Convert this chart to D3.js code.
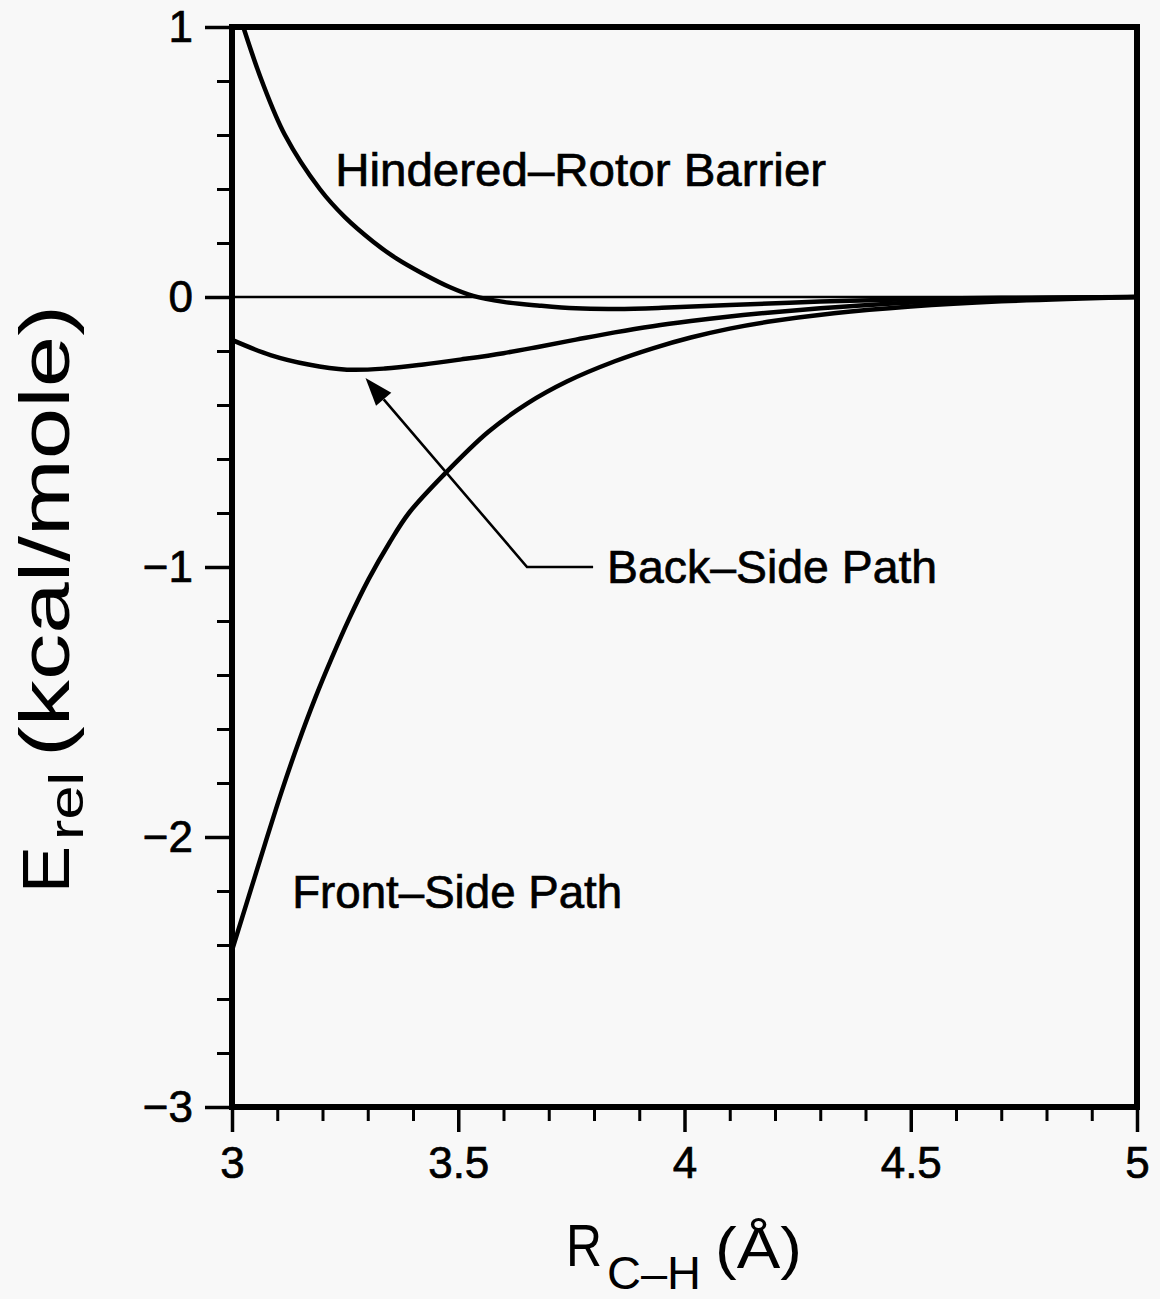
<!DOCTYPE html>
<html>
<head>
<meta charset="utf-8">
<script src="https://cdn.jsdelivr.net/npm/d3@7"></script>
<style>
  html, body { margin: 0; padding: 0; background: #f8f8f8; }
  svg { display: block; }
  text { font-family: "Liberation Sans", Arial, sans-serif; fill: #000; stroke: #000; stroke-width: 0.7px; }
  .title text { stroke-width: 0; }
</style>
</head>
<body>
<svg id="chart" width="1160" height="1299"></svg>
<script>
// ---- data: relative energy (kcal/mole) vs C–H distance (Å) ----
const rotorR = [3.025, 3.066, 3.117, 3.194, 3.25, 3.312, 3.364, 3.42, 3.482, 3.533,
                3.6, 3.68, 3.76, 3.85, 3.95, 4.1, 4.3, 4.5, 4.7, 5.0];
const rotorE = [1.0, 0.80, 0.60, 0.40, 0.295, 0.205, 0.142, 0.088, 0.036, 0.004,
                -0.018, -0.032, -0.042, -0.044, -0.040, -0.030, -0.017, -0.008, -0.003, 0.0];

const backR = [3.0, 3.085, 3.169, 3.254, 3.338, 3.423, 3.507, 3.6, 3.676, 3.76,
               3.846, 3.93, 4.014, 4.1, 4.184, 4.3, 4.45, 4.6, 4.8, 5.0];
const backE = [-0.159, -0.215, -0.250, -0.269, -0.265, -0.250, -0.231, -0.208, -0.185, -0.158,
               -0.131, -0.108, -0.089, -0.072, -0.058, -0.042, -0.025, -0.013, -0.004, 0.0];

const frontR = [3.0, 3.037, 3.074, 3.110, 3.147, 3.184, 3.221, 3.258, 3.302, 3.348,
                3.391, 3.47, 3.566, 3.653, 3.74, 3.846, 3.93, 4.014, 4.1, 4.184,
                4.33, 4.5, 4.7, 5.0];
const frontE = [-2.42, -2.22, -2.02, -1.83, -1.65, -1.485, -1.335, -1.195, -1.045, -0.91,
                -0.80, -0.655, -0.50, -0.394, -0.313, -0.238, -0.19, -0.150, -0.117, -0.092,
                -0.060, -0.035, -0.016, 0.0];

// ---- axes ----
const xDomain = [3, 5];
const yDomain = [-3, 1];
const xMajorTicks = [3, 3.5, 4, 4.5, 5];
const yMajorTicks = [-3, -2, -1, 0, 1];
const xMinorTicks = [3.1, 3.2, 3.3, 3.4, 3.6, 3.7, 3.8, 3.9, 4.1, 4.2, 4.3, 4.4, 4.6, 4.7, 4.8, 4.9];
const yMinorTicks = [-2.8, -2.6, -2.4, -2.2, -1.8, -1.6, -1.4, -1.2, -0.8, -0.6, -0.4, -0.2,
                     0.2, 0.4, 0.6, 0.8];

// ---- labels ----
const curveLabels = [
  { text: "Hindered–Rotor Barrier", r: 3.228, e: 0.412, len: 491 },
  { text: "Back–Side Path",         r: 3.829, e: -1.059, len: 330 },
  { text: "Front–Side Path",        r: 3.133, e: -2.263, len: 330 }
];
// arrow pointing from the Back–Side label to the minimum of that curve
const arrowTip = { r: 3.295, e: -0.30 };
const arrowElbow = { r: 3.652, e: -1.0 };
const arrowEnd = { r: 3.798, e: -1.0 };

const W = 1160, H = 1299;
const plot = { left: 232, right: 1137, top: 27, bottom: 1107 };

const svg = d3.select("#chart");
svg.append("rect").attr("width", W).attr("height", H).attr("fill", "#f8f8f8");

const x = d3.scaleLinear(xDomain, [plot.left, plot.right]);
const y = d3.scaleLinear(yDomain, [plot.bottom, plot.top]);

svg.append("defs").append("clipPath").attr("id", "plotClip")
  .append("rect")
  .attr("x", plot.left).attr("y", plot.top)
  .attr("width", plot.right - plot.left).attr("height", plot.bottom - plot.top);

const fontTicks = 44;
const fontFamily = '"Liberation Sans", Arial, sans-serif';

// minor ticks
svg.append("g")
  .attr("transform", `translate(${plot.left},0)`)
  .call(d3.axisLeft(y).tickValues(yMinorTicks).tickSize(15).tickFormat(""))
  .call(g => g.select(".domain").remove())
  .call(g => g.selectAll("line").attr("stroke", "#000").attr("stroke-width", 3));

svg.append("g")
  .attr("transform", `translate(0,${plot.bottom})`)
  .call(d3.axisBottom(x).tickValues(xMinorTicks).tickSize(14).tickFormat(""))
  .call(g => g.select(".domain").remove())
  .call(g => g.selectAll("line").attr("stroke", "#000").attr("stroke-width", 3));

// major ticks + labels
svg.append("g")
  .attr("transform", `translate(${plot.left},0)`)
  .call(d3.axisLeft(y).tickValues(yMajorTicks).tickSize(27).tickPadding(12)
          .tickFormat(d3.format("~g")))
  .call(g => g.select(".domain").remove())
  .call(g => g.selectAll("line").attr("stroke", "#000").attr("stroke-width", 3.5))
  .call(g => g.selectAll("text")
      .attr("font-size", fontTicks)
      .attr("font-family", fontFamily)
      .attr("fill", "#000"));

svg.append("g")
  .attr("transform", `translate(0,${plot.bottom})`)
  .call(d3.axisBottom(x).tickValues(xMajorTicks).tickSize(25).tickPadding(15)
          .tickFormat(d3.format("~g")))
  .call(g => g.select(".domain").remove())
  .call(g => g.selectAll("line").attr("stroke", "#000").attr("stroke-width", 3.5))
  .call(g => g.selectAll("text")
      .attr("font-size", fontTicks)
      .attr("font-family", fontFamily)
      .attr("fill", "#000"));

// zero reference line
svg.append("line")
  .attr("x1", x(xDomain[0])).attr("x2", x(xDomain[1]))
  .attr("y1", y(0)).attr("y2", y(0))
  .attr("stroke", "#000").attr("stroke-width", 2.5);

// energy curves
const line = d3.line()
  .x(d => x(d[0]))
  .y(d => y(d[1]))
  .curve(d3.curveCatmullRom.alpha(0.5));

const series = [
  d3.zip(rotorR, rotorE),
  d3.zip(backR, backE),
  d3.zip(frontR, frontE)
];

svg.append("g").attr("clip-path", "url(#plotClip)")
  .selectAll("path")
  .data(series)
  .join("path")
  .attr("d", line)
  .attr("fill", "none")
  .attr("stroke", "#000")
  .attr("stroke-width", 4.5)
  .attr("stroke-linejoin", "round");

// annotation arrow
const tip = [x(arrowTip.r), y(arrowTip.e)];
const elbow = [x(arrowElbow.r), y(arrowElbow.e)];
const end = [x(arrowEnd.r), y(arrowEnd.e)];
const dx = tip[0] - elbow[0], dy = tip[1] - elbow[1];
const dl = Math.hypot(dx, dy);
const ux = dx / dl, uy = dy / dl;
const headLen = 28, headHalf = 10;
const base = [tip[0] - ux * headLen, tip[1] - uy * headLen];

svg.append("path")
  .attr("d", d3.line()([end, elbow, base]))
  .attr("fill", "none")
  .attr("stroke", "#000")
  .attr("stroke-width", 2.6);

svg.append("path")
  .attr("d", d3.line()([
    tip,
    [base[0] - uy * headHalf, base[1] + ux * headHalf],
    [base[0] + uy * headHalf, base[1] - ux * headHalf]
  ]) + "Z")
  .attr("fill", "#000");

// curve labels
svg.append("g")
  .selectAll("text")
  .data(curveLabels)
  .join("text")
  .attr("x", d => x(d.r))
  .attr("y", d => y(d.e))
  .attr("font-size", 47)
  .attr("textLength", d => d.len)
  .attr("lengthAdjust", "spacingAndGlyphs")
  .text(d => d.text);

// frame
svg.append("rect")
  .attr("x", plot.left).attr("y", plot.top)
  .attr("width", plot.right - plot.left).attr("height", plot.bottom - plot.top)
  .attr("fill", "none")
  .attr("stroke", "#000")
  .attr("stroke-width", 6);

// x-axis title: R_C–H (Å)
const xt = svg.append("g").attr("class", "title");
xt.append("text").attr("x", 566).attr("y", 1266).attr("font-size", 60)
  .attr("textLength", 36).attr("lengthAdjust", "spacingAndGlyphs").text("R");
xt.append("text").attr("x", 607).attr("y", 1289).attr("font-size", 47)
  .attr("textLength", 94).attr("lengthAdjust", "spacingAndGlyphs").text("C–H");
xt.append("text").attr("x", 715).attr("y", 1268).attr("font-size", 58)
  .attr("textLength", 87).attr("lengthAdjust", "spacingAndGlyphs").text("(Å)");

// y-axis title: E_rel (kcal/mole)
const yt = svg.append("g").attr("class", "title")
  .attr("transform", "translate(69,893) rotate(-90)");
yt.append("text").attr("x", 0).attr("y", 0).attr("font-size", 67)
  .attr("textLength", 47).attr("lengthAdjust", "spacingAndGlyphs").text("E");
yt.append("text").attr("x", 53).attr("y", 14).attr("font-size", 48)
  .attr("textLength", 68).attr("lengthAdjust", "spacingAndGlyphs").text("rel");
yt.append("text").attr("x", 136).attr("y", 0).attr("font-size", 70)
  .attr("textLength", 452).attr("lengthAdjust", "spacingAndGlyphs").text("(kcal/mole)");
</script>
</body>
</html>
